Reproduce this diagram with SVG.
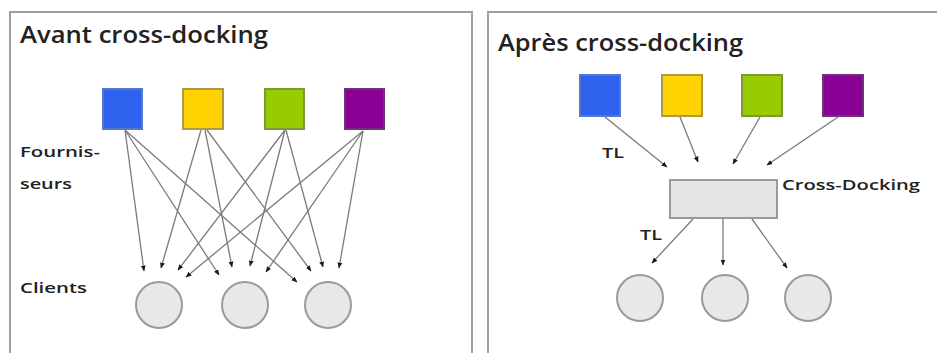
<svg xmlns="http://www.w3.org/2000/svg" width="937" height="353" viewBox="0 0 937 353">
<defs>
<marker id="ah" viewBox="0 0 10 10" refX="9" refY="5" markerWidth="6" markerHeight="6" orient="auto" markerUnits="userSpaceOnUse">
<path d="M0,1 L10,5 L0,9 z" fill="#1a1a1a"/>
</marker>
</defs>
<style>
.panel{fill:#fff;stroke:#a0a0a0;stroke-width:2}
.title{font-family:"Open Sans","Liberation Sans",sans-serif;font-size:23px;font-weight:600;fill:#222}
.lbl{font-family:"Open Sans","Liberation Sans",sans-serif;font-size:14px;font-weight:600;fill:#222}
.cl{fill:#e8e8e8;stroke:#9a9a9a;stroke-width:2}
.conn line{stroke:#7a7a7a;stroke-width:1.3;marker-end:url(#ah)}
.blue{fill:#2f62ee;stroke:#5577cc;stroke-width:2}
.yellow{fill:#ffd200;stroke:#b09a40;stroke-width:2}
.green{fill:#99cc00;stroke:#7a9a3a;stroke-width:2}
.purple{fill:#8b0094;stroke:#70307a;stroke-width:2}
.xd{fill:#e4e4e4;stroke:#9a9a9a;stroke-width:2}
</style>
<rect width="937" height="353" fill="#fff"/>
<rect class="panel" x="10" y="12" width="462" height="350"/>
<rect class="panel" x="488" y="12" width="460" height="350"/>

<text class="title" x="20" y="43" textLength="248" lengthAdjust="spacingAndGlyphs">Avant cross-docking</text>
<text class="title" x="498" y="51" textLength="245" lengthAdjust="spacingAndGlyphs">Après cross-docking</text>

<text class="lbl" x="20" y="157" textLength="80" lengthAdjust="spacingAndGlyphs">Fournis-</text>
<text class="lbl" x="20" y="189" textLength="52" lengthAdjust="spacingAndGlyphs">seurs</text>
<text class="lbl" x="20" y="293" textLength="67" lengthAdjust="spacingAndGlyphs">Clients</text>

<g id="left-s1"><rect class="blue" x="103" y="89" width="39" height="40"/></g>
<g id="left-s2"><rect class="yellow" x="183" y="89" width="40" height="40"/></g>
<g id="left-s3"><rect class="green" x="265" y="89" width="39" height="40"/></g>
<g id="left-s4"><rect class="purple" x="345" y="89" width="39" height="40"/></g>

<g id="left-c1"><circle class="cl" cx="159" cy="305" r="23"/></g>
<g id="left-c2"><circle class="cl" cx="245" cy="305" r="23"/></g>
<g id="left-c3"><circle class="cl" cx="328" cy="305" r="23"/></g>

<g id="right-s1"><rect class="blue" x="580" y="75" width="40" height="41"/></g>
<g id="right-s2"><rect class="yellow" x="662" y="75" width="40" height="41"/></g>
<g id="right-s3"><rect class="green" x="742" y="75" width="40" height="41"/></g>
<g id="right-s4"><rect class="purple" x="823" y="75" width="40" height="41"/></g>

<g id="crossdock"><rect class="xd" x="670" y="180" width="107" height="38"/>
<text class="lbl" x="782" y="190" textLength="138" lengthAdjust="spacingAndGlyphs">Cross-Docking</text></g>

<g id="right-c1"><circle class="cl" cx="640" cy="298" r="23"/></g>
<g id="right-c2"><circle class="cl" cx="725" cy="298" r="23"/></g>
<g id="right-c3"><circle class="cl" cx="808" cy="298" r="23"/></g>

<g id="connectors" class="conn">
<line x1="125" y1="130" x2="144" y2="271"/>
<line x1="125" y1="130" x2="219" y2="275"/>
<line x1="125" y1="130" x2="297" y2="282"/>
<line x1="201" y1="130" x2="161" y2="268"/>
<line x1="205" y1="130" x2="232" y2="267"/>
<line x1="207" y1="130" x2="311" y2="271"/>
<line x1="285" y1="130" x2="178" y2="270"/>
<line x1="285" y1="130" x2="250" y2="266"/>
<line x1="286" y1="130" x2="323" y2="267"/>
<line x1="363" y1="131" x2="186" y2="277"/>
<line x1="363" y1="131" x2="266" y2="272"/>
<line x1="363" y1="131" x2="339" y2="268"/>

<line x1="605" y1="117" x2="667" y2="167"/>
<line x1="680" y1="117" x2="698" y2="162"/>
<line x1="760" y1="117" x2="733" y2="164"/>
<line x1="838" y1="117" x2="767" y2="165"/>

<line x1="693" y1="219" x2="652" y2="263"/>
<line x1="723" y1="219" x2="723" y2="265"/>
<line x1="752" y1="219" x2="787" y2="268"/>
</g>
<text class="lbl" x="602" y="158" font-size="13" textLength="22" lengthAdjust="spacingAndGlyphs">TL</text>
<text class="lbl" x="640" y="240" font-size="13" textLength="22" lengthAdjust="spacingAndGlyphs">TL</text>
</svg>
